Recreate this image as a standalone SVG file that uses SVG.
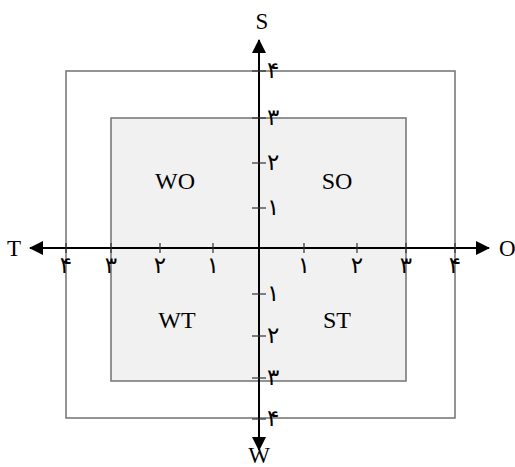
<svg xmlns="http://www.w3.org/2000/svg" width="515" height="467" viewBox="0 0 515 467">
<style>
.box{stroke:#7a7a7a;stroke-width:1.6}
.ax{stroke:#000;stroke-width:2;fill:none}
.tk{stroke:#333;stroke-width:1.2}
.lbl{font-family:"Liberation Serif",serif;font-size:23px;fill:#000}
.q{font-family:"Liberation Serif",serif;font-size:24px;fill:#000;text-anchor:middle}
.d{font-family:"DejaVu Sans","Noto Sans",sans-serif;font-size:23px;fill:#000}
.dh{text-anchor:middle}
</style>
<defs>
<marker id="ah" viewBox="0 0 14 14" refX="13" refY="7" markerWidth="14" markerHeight="14" markerUnits="userSpaceOnUse" orient="auto">
<path d="M0,0 L14,7 L0,14 Z" fill="#000"/>
</marker>
</defs>
<g id="outer"><rect class="box" x="66" y="71" width="389" height="347" fill="#fff"/></g>
<g id="inner"><rect class="box" x="111" y="118" width="295" height="263" fill="#f1f1f1"/></g>
<g id="connectors">
<line class="ax" x1="259" y1="248" x2="30" y2="248" marker-end="url(#ah)"/>
<line class="ax" x1="259" y1="248" x2="489" y2="248" marker-end="url(#ah)"/>
<line class="ax" x1="259" y1="248" x2="259" y2="40" marker-end="url(#ah)"/>
<line class="ax" x1="259" y1="248" x2="259" y2="450" marker-end="url(#ah)"/>
</g>
<g id="ticks">
<line class="tk" x1="66" y1="243" x2="66" y2="253"/>
<line class="tk" x1="111" y1="243" x2="111" y2="253"/>
<line class="tk" x1="160" y1="243" x2="160" y2="253"/>
<line class="tk" x1="213" y1="243" x2="213" y2="253"/>
<line class="tk" x1="304" y1="243" x2="304" y2="253"/>
<line class="tk" x1="357" y1="243" x2="357" y2="253"/>
<line class="tk" x1="406" y1="243" x2="406" y2="253"/>
<line class="tk" x1="455" y1="243" x2="455" y2="253"/>
<line class="tk" x1="252" y1="71" x2="266" y2="71"/>
<line class="tk" x1="252" y1="118" x2="266" y2="118"/>
<line class="tk" x1="252" y1="163" x2="266" y2="163"/>
<line class="tk" x1="252" y1="208" x2="266" y2="208"/>
<line class="tk" x1="252" y1="294" x2="266" y2="294"/>
<line class="tk" x1="252" y1="336" x2="266" y2="336"/>
<line class="tk" x1="252" y1="378" x2="266" y2="378"/>
<line class="tk" x1="252" y1="419" x2="266" y2="419"/>
</g>
<g id="tick-labels">
<text class="d dh" x="66" y="273">۴</text>
<text class="d dh" x="111" y="273">۳</text>
<text class="d dh" x="160" y="273">۲</text>
<text class="d dh" x="213" y="273">۱</text>
<text class="d dh" x="304" y="273">۱</text>
<text class="d dh" x="357" y="273">۲</text>
<text class="d dh" x="406" y="273">۳</text>
<text class="d dh" x="455" y="273">۴</text>
<text class="d" x="267" y="78">۴</text>
<text class="d" x="267" y="125">۳</text>
<text class="d" x="267" y="170">۲</text>
<text class="d" x="267" y="215">۱</text>
<text class="d" x="267" y="301">۱</text>
<text class="d" x="267" y="343">۲</text>
<text class="d" x="267" y="385">۳</text>
<text class="d" x="267" y="426">۴</text>
</g>
<g id="axis-labels">
<text class="lbl" x="7" y="256">T</text>
<text class="lbl" x="499" y="256">O</text>
<text class="lbl" x="262" y="29" text-anchor="middle">S</text>
<text class="lbl" x="259" y="463" text-anchor="middle" font-size="21">W</text>
</g>
<g id="quadrant-labels">
<text class="q" x="175" y="189">WO</text>
<text class="q" x="337" y="189">SO</text>
<text class="q" x="177" y="328">WT</text>
<text class="q" x="337" y="328">ST</text>
</g>
</svg>
